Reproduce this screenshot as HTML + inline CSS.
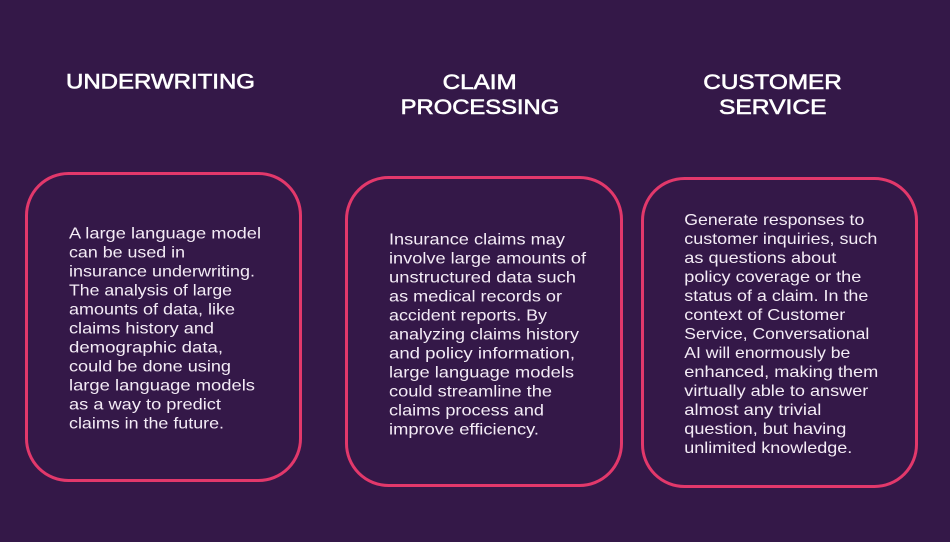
<!DOCTYPE html>
<html>
<head>
<meta charset="utf-8">
<style>
  html,body{margin:0;padding:0;background:#341848;}
  body{width:950px;height:542px;overflow:hidden;}
  svg{display:block;}
  .t{font-family:"Liberation Sans",sans-serif;font-weight:normal;font-size:21px;fill:#ffffff;stroke:#ffffff;stroke-width:0.6;}
  .b{font-family:"Liberation Sans",sans-serif;font-size:16px;fill:#f4ecf6;}
</style>
</head>
<body>
<svg width="950" height="542" viewBox="0 0 950 542" xmlns="http://www.w3.org/2000/svg">
  <rect x="0" y="0" width="950" height="542" fill="#341848"/>

  <!-- Titles -->
  <text class="t" x="66" y="88.3" textLength="189" lengthAdjust="spacingAndGlyphs">UNDERWRITING</text>
  <text class="t" x="442.7" y="89" textLength="74" lengthAdjust="spacingAndGlyphs">CLAIM</text>
  <text class="t" x="400.7" y="114" textLength="158.5" lengthAdjust="spacingAndGlyphs">PROCESSING</text>
  <text class="t" x="703.3" y="89" textLength="138.5" lengthAdjust="spacingAndGlyphs">CUSTOMER</text>
  <text class="t" x="719" y="114" textLength="107.5" lengthAdjust="spacingAndGlyphs">SERVICE</text>

  <!-- Boxes -->
  <rect x="26.5" y="173.5" width="274" height="307" rx="42" ry="42" fill="none" stroke="#e2386b" stroke-width="3"/>
  <rect x="346.5" y="177.5" width="275" height="308" rx="42" ry="42" fill="none" stroke="#e2386b" stroke-width="3"/>
  <rect x="642.5" y="178.5" width="274" height="308" rx="42" ry="42" fill="none" stroke="#e2386b" stroke-width="3"/>

  <!-- Box 1 text -->
  <g class="b">
    <text x="69" y="238.4" textLength="192" lengthAdjust="spacingAndGlyphs">A large language model</text>
    <text x="69" y="257.4" textLength="116" lengthAdjust="spacingAndGlyphs">can be used in</text>
    <text x="69" y="276.4" textLength="186" lengthAdjust="spacingAndGlyphs">insurance underwriting.</text>
    <text x="69" y="295.4" textLength="163" lengthAdjust="spacingAndGlyphs">The analysis of large</text>
    <text x="69" y="314.4" textLength="166" lengthAdjust="spacingAndGlyphs">amounts of data, like</text>
    <text x="69" y="333.4" textLength="145" lengthAdjust="spacingAndGlyphs">claims history and</text>
    <text x="69" y="352.4" textLength="154" lengthAdjust="spacingAndGlyphs">demographic data,</text>
    <text x="69" y="371.4" textLength="162" lengthAdjust="spacingAndGlyphs">could be done using</text>
    <text x="69" y="390.4" textLength="186" lengthAdjust="spacingAndGlyphs">large language models</text>
    <text x="69" y="409.4" textLength="152" lengthAdjust="spacingAndGlyphs">as a way to predict</text>
    <text x="69" y="428.4" textLength="155" lengthAdjust="spacingAndGlyphs">claims in the future.</text>
  </g>

  <!-- Box 2 text -->
  <g class="b">
    <text x="389" y="244.4" textLength="176" lengthAdjust="spacingAndGlyphs">Insurance claims may</text>
    <text x="389" y="263.4" textLength="197" lengthAdjust="spacingAndGlyphs">involve large amounts of</text>
    <text x="389" y="282.4" textLength="187" lengthAdjust="spacingAndGlyphs">unstructured data such</text>
    <text x="389" y="301.4" textLength="173" lengthAdjust="spacingAndGlyphs">as medical records or</text>
    <text x="389" y="320.4" textLength="158" lengthAdjust="spacingAndGlyphs">accident reports. By</text>
    <text x="389" y="339.4" textLength="190" lengthAdjust="spacingAndGlyphs">analyzing claims history</text>
    <text x="389" y="358.4" textLength="186" lengthAdjust="spacingAndGlyphs">and policy information,</text>
    <text x="389" y="377.4" textLength="185" lengthAdjust="spacingAndGlyphs">large language models</text>
    <text x="389" y="396.4" textLength="163" lengthAdjust="spacingAndGlyphs">could streamline the</text>
    <text x="389" y="415.4" textLength="155" lengthAdjust="spacingAndGlyphs">claims process and</text>
    <text x="389" y="434.4" textLength="150" lengthAdjust="spacingAndGlyphs">improve efficiency.</text>
  </g>

  <!-- Box 3 text -->
  <g class="b">
    <text x="684.3" y="225" textLength="180" lengthAdjust="spacingAndGlyphs">Generate responses to</text>
    <text x="684.3" y="244" textLength="193" lengthAdjust="spacingAndGlyphs">customer inquiries, such</text>
    <text x="684.3" y="263" textLength="152" lengthAdjust="spacingAndGlyphs">as questions about</text>
    <text x="684.3" y="282" textLength="177" lengthAdjust="spacingAndGlyphs">policy coverage or the</text>
    <text x="684.3" y="301" textLength="184" lengthAdjust="spacingAndGlyphs">status of a claim. In the</text>
    <text x="684.3" y="320" textLength="161" lengthAdjust="spacingAndGlyphs">context of Customer</text>
    <text x="684.3" y="339" textLength="185" lengthAdjust="spacingAndGlyphs">Service, Conversational</text>
    <text x="684.3" y="358" textLength="166" lengthAdjust="spacingAndGlyphs">AI will enormously be</text>
    <text x="684.3" y="377" textLength="194" lengthAdjust="spacingAndGlyphs">enhanced, making them</text>
    <text x="684.3" y="396" textLength="184" lengthAdjust="spacingAndGlyphs">virtually able to answer</text>
    <text x="684.3" y="415" textLength="137" lengthAdjust="spacingAndGlyphs">almost any trivial</text>
    <text x="684.3" y="434" textLength="162" lengthAdjust="spacingAndGlyphs">question, but having</text>
    <text x="684.3" y="453" textLength="168" lengthAdjust="spacingAndGlyphs">unlimited knowledge.</text>
  </g>
</svg>
</body>
</html>
